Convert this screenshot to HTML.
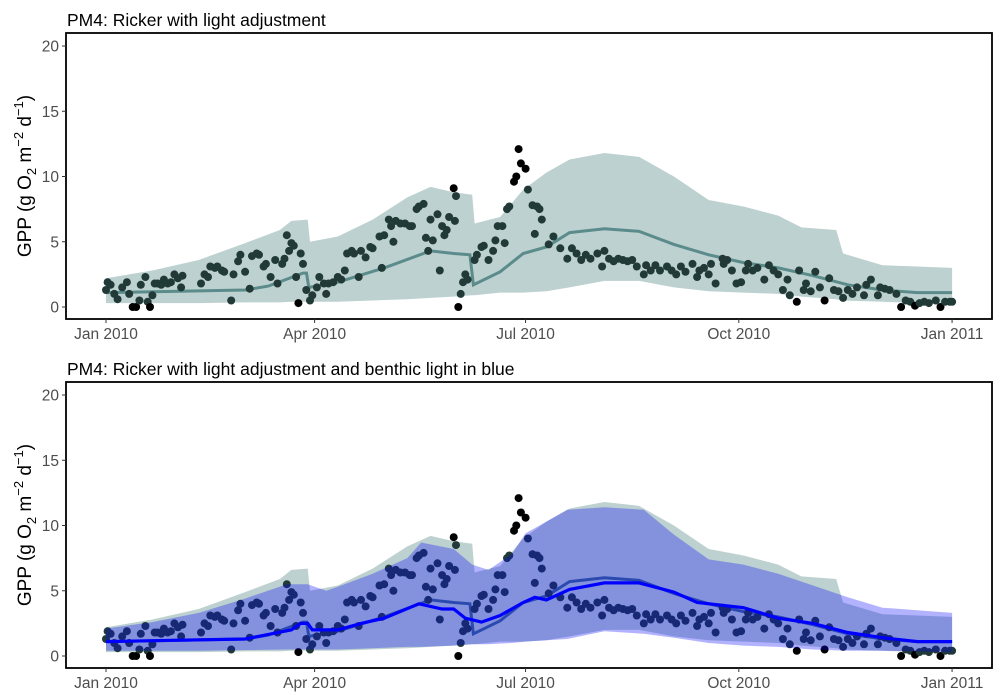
<!DOCTYPE html>
<html><head><meta charset="utf-8"><style>
body{margin:0;background:#fff}
svg{display:block;font-family:"Liberation Sans",sans-serif}
</style></head><body>
<svg id="c" width="1000" height="700" viewBox="0 0 1000 700"></svg>
<script>
const days=[0,0.7,2,3.6,5,7,9,10,11.5,13,14.4,15,17,18,19,20,21,22.3,23.8,25,26.6,28,29.5,31,32.4,33,41,42.5,44,45,47,48,50,51,54,55,57,58,60,62,63,65,66,68,69,71,73,74,76,77,78,79,80,81,82,83,84,85,86.4,88,89,91,92,94,95,96,98,100,101.5,103,104,106,107,109,110,112,114,115,118,119,120,122,123,124,125,127,129,131,132,134,135,137,138,139,140,141,143,144,145,146,147,148,150,150.5,151,152,153,154,155,156,159,160,162,163,165,167,168,169,171,172,173,174,176,177,178,179,181,182,184,185,186,187,188,191,193,196,199,201,203,205,207,209,212,214,215,217,219,221,223,225,227,229,232,233,235,237,239,242,244,246,248,250,253,255,256,258,260,261,263,266,266.5,268,270,272,274,276,277,279,281,284,286,288,290,292,294,295,298,299,301,302,304,306,308,310,312,314,316,318,320,322,324,327,328,330,333,334,336,338,341,343,345,347,349,351,353,355,358,360,362,364,365];
const gpp=[1.3,1.9,1.7,1.0,0.6,1.5,1.9,1.0,0,0,0.5,1.7,2.3,0.4,0,0.9,1.8,1.8,1.7,2.1,1.8,1.9,2.5,2.2,1.5,2.4,1.8,2.5,2.3,3.1,3.0,3.1,2.8,2.7,0.5,2.5,3.5,4.0,2.7,1.4,3.9,4.1,4.0,3.1,3.3,2.3,3.6,1.8,3.3,3.7,5.5,4.3,4.9,4.7,2.3,0.3,4.1,3.3,1.3,0.5,0.9,1.5,2.3,1.8,1.0,1.8,1.9,2.3,2.1,2.8,4.1,4.3,4.1,2.3,4.3,3.8,4.6,4.5,5.4,3.0,5.5,6.7,6.2,5.0,6.6,6.4,6.4,6.2,6.2,7.5,7.7,7.9,5.3,4.3,6.7,5.1,7.1,2.8,6.2,5.5,5.9,6.9,9.1,6.6,8.5,0,1.0,1.9,2.5,2.1,3.6,4.0,4.6,4.7,3.6,4.3,5.1,6.2,6.2,4.9,7.5,7.7,9.6,10.0,12.1,11.0,10.6,9.0,7.8,5.6,7.7,7.5,6.7,4.8,5.4,4.5,3.7,4.5,4.1,3.6,4.0,3.7,4.1,3.1,4.3,3.7,3.5,3.7,3.6,3.5,3.6,3.1,2.5,3.2,2.8,3.2,2.8,3.1,2.8,2.5,3.1,2.7,3.3,2.3,2.8,3.0,2.5,3.3,1.8,3.7,3.3,3.6,2.8,1.8,1.9,2.8,3.3,2.8,3.0,2.1,3.2,2.8,2.5,1.3,2.1,0.9,0.4,2.8,1.3,1.8,1.2,2.7,1.5,0.5,2.2,1.3,1.2,0.7,1.3,1.0,1.5,0.9,1.7,2.1,0.9,1.5,1.4,1.3,1.0,0,0.5,0.4,0.1,0.3,0.4,0.3,0.5,0,0.4,0.4,0.4];
const bandDays=[0,20,40,60,75,80,87,88,100,115,130,140,150,158,159,170,180,190,200,215,230,245,260,275,290,300,315,318,335,350,365];
const greyUpper=[2.2,2.8,3.6,4.9,5.9,6.6,6.7,5.0,5.4,6.7,8.4,9.2,8.8,8.6,6.4,6.9,9.0,10.3,11.3,11.8,11.5,10.0,8.2,7.7,7.0,6.1,5.9,4.1,3.2,3.1,3.0];
const greyLower=[0.3,0.3,0.3,0.35,0.35,0.4,0.4,0.4,0.4,0.5,0.6,0.7,0.8,0.9,0.9,1.1,1.1,1.2,1.5,2.0,2.0,1.5,1.2,1.1,1.0,0.8,0.6,0.5,0.4,0.3,0.3];
const lineDays=[0,60,70,85,86.5,87.5,100,120,140,150,157,158.5,170,180,190,200,215,230,245,260,275,290,305,320,335,350,365];
const greyLine=[1.1,1.3,1.6,2.6,2.6,1.5,1.9,3.0,4.3,4.1,4.0,1.7,2.7,4.1,4.6,5.7,6.0,5.8,4.8,4.0,3.4,3.0,2.4,1.7,1.3,1.1,1.1];
const blueBandDays=[0,20,40,60,78,87,95,100,115,130,136,150,158,165,175,181,190,199,215,232,245,260,275,290,305,320,335,365];
const blueUpper=[2.1,2.6,3.3,4.4,5.5,5.5,5.0,5.3,6.3,7.5,8.7,8.2,7.0,6.6,7.8,9.4,10.3,11.2,11.4,11.2,9.3,7.4,7.0,6.3,5.4,4.5,3.7,3.3];
const blueLower=[0.4,0.4,0.4,0.45,0.5,0.5,0.5,0.5,0.6,0.7,0.7,0.8,0.9,0.9,1.0,1.1,1.2,1.3,1.9,1.7,1.4,1.0,0.8,0.7,0.5,0.4,0.4,0.3];
const blueLineDays=[0,60,80,84,87,89,100,110,120,135,145,150,155,162,170,180,185,190,200,215,230,245,255,275,290,305,320,335,350,365];
const blueLine=[1.1,1.3,2.0,2.5,2.5,2.0,2.0,2.5,2.9,4.0,3.6,3.6,2.9,2.6,3.1,4.1,4.5,4.3,5.1,5.6,5.6,4.9,4.1,3.7,2.9,2.5,1.8,1.4,1.1,1.1];
const yTicks=[0,5,10,15,20];
const xTickDays=[0,90,181,273,365];
const xTickLabels=["Jan 2010","Apr 2010","Jul 2010","Oct 2010","Jan 2011"];

const NS="http://www.w3.org/2000/svg";
const svg=document.getElementById('c');
function mk(t,a,p){const e=document.createElementNS(NS,t);for(const k in a)e.setAttribute(k,a[k]);(p||svg).appendChild(e);return e;}
const X=d=>106+d*2.318;
function interp(ds,vs,d){if(d<=ds[0])return vs[0];for(let i=1;i<ds.length;i++){if(d<=ds[i]){const t=(d-ds[i-1])/(ds[i]-ds[i-1]);return vs[i-1]+t*(vs[i]-vs[i-1]);}}return vs[vs.length-1];}
function bandPath(ds,up,lo,Y){let s='M'+ds.map((d,i)=>X(d).toFixed(1)+','+Y(up[i]).toFixed(1)).join('L');for(let i=ds.length-1;i>=0;i--)s+='L'+X(ds[i]).toFixed(1)+','+Y(lo[i]).toFixed(1);return s+'Z';}
function linePath(ds,vs,Y){return 'M'+ds.map((d,i)=>X(d).toFixed(1)+','+Y(vs[i]).toFixed(1)).join('L');}

function panel(top,title,withBlue,pname){
  const zero=top+274, Y=v=>zero-v*13.05;
  const g=mk('g',{});
  
  
  const tt=mk('text',{x:67,y:top-7,'font-size':17.5,fill:'#000'},g);tt.textContent=title;
  
  const gb=mk('path',{d:bandPath(bandDays,greyUpper,greyLower,Y),fill:'#bdd1d0'},g);
  
  const gl=mk('path',{d:linePath(lineDays,greyLine,Y),fill:'none',stroke:withBlue?'#3e6a8e':'#5b8b8b','stroke-width':3},g);
  
  const n=Math.min(days.length,gpp.length);
  for(let i=0;i<n;i++){const d=days[i],v=gpp[i];
    const out=v>interp(bandDays,greyUpper,d)||v<interp(bandDays,greyLower,d);
    const c=mk('circle',{cx:X(d).toFixed(1),cy:Y(v).toFixed(1),r:4,fill:out?'#000':'#213a38'},g);
    
    }
  if(withBlue){
    const bb=mk('path',{d:bandPath(blueBandDays,blueUpper,blueLower,Y),fill:'#0000ff','fill-opacity':0.3},g);
    
    const bl=mk('path',{d:linePath(blueLineDays,blueLine,Y),fill:'none',stroke:'#0000ff','stroke-width':3.2},g);
    
  }
  const fr=mk('rect',{x:66,y:top,width:926,height:286,fill:'none',stroke:'#000','stroke-width':1.8},g);
  
  yTicks.forEach(v=>{mk('line',{x1:62,x2:66,y1:Y(v),y2:Y(v),stroke:'#333','stroke-width':1},g);
    const t=mk('text',{x:59,y:Y(v)+5.5,'text-anchor':'end','font-size':15.5,fill:'#4d4d4d'},g);t.textContent=v;
    });
  xTickDays.forEach((d,i)=>{mk('line',{x1:X(d),x2:X(d),y1:top+286,y2:top+290,stroke:'#333','stroke-width':1},g);
    const t=mk('text',{x:X(d),y:top+306,'text-anchor':'middle','font-size':15.5,fill:'#4d4d4d'},g);t.textContent=xTickLabels[i];
    });
  const yt=mk('text',{transform:`translate(31,${top+143}) rotate(-90)`,'text-anchor':'middle','font-size':19,fill:'#000'},g);
  
  yt.innerHTML='GPP (g  O<tspan font-size="13" dy="5">2</tspan><tspan dy="-5"> m</tspan><tspan font-size="13" dy="-8">−2</tspan><tspan dy="8"> d</tspan><tspan font-size="13" dy="-8">−1</tspan><tspan dy="8">)</tspan>';
}
panel(33,'PM4: Ricker with light adjustment',false,'top-panel');
panel(382,'PM4: Ricker with light adjustment and benthic light in blue',true,'bottom-panel');
</script>
</body></html>
